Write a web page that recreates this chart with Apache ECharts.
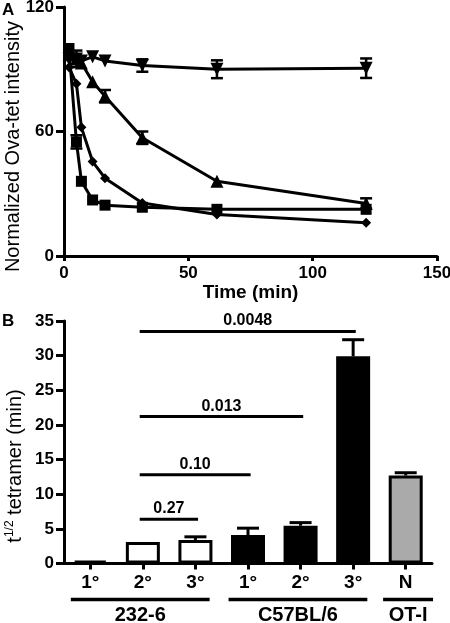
<!DOCTYPE html>
<html>
<head>
<meta charset="utf-8">
<script src="https://cdn.jsdelivr.net/npm/echarts@6/dist/echarts.min.js"></script>
<style>html,body{margin:0;padding:0;background:#fff;}#c{width:450px;height:623px;}</style>
</head>
<body>
<div id="c"></div>
<script>
// ---------- Panel A data ----------
const times = [2, 5, 7, 11.5, 16.5, 31.5, 61.5, 121.5];
const squareVals = [100, 55, 36, 27, 24.5, 23.5, 22.5, 22.5];
const squareErr  = [0, 3.2, 0, 0, 0, 0, 0, 0];
const diamondVals = [91, 83, 62, 45.5, 37.5, 25.5, 20, 16];
const diamondErr  = [0, 0, 0, 0, 0, 0, 0, 0];
const triUpVals = [97, 95, 93, 84, 77, 57, 36, 25.3];
const triUpErr  = [0, 0, 0, 0, 3, 3, 0, 2.5];
const triDownVals = [95, 95, 94, 96, 94, 91.8, 90, 90.5];
const triDownErr  = [0, 4, 0, 0, 0, 3, 4.3, 4.7];
const xTicksA = [0, 50, 100, 150];
const yTicksA = [0, 60, 120];

// ---------- Panel B data ----------
const categories = ['1°', '2°', '3°', '1°', '2°', '3°', 'N'];
const barVals = [0.4, 3.1, 3.4, 4.1, 5.45, 29.9, 12.7];
const barErr  = [0, 0, 0.45, 1.0, 0.45, 2.4, 0.4];
const barFill = ['#ffffff', '#ffffff', '#ffffff', '#000000', '#000000', '#000000', '#aaaaaa'];
const groupLabels = ['232-6', 'C57BL/6', 'OT-I'];
const groupStart = [0, 3, 6];
const groupEnd = [2, 5, 6];
const sigLabels = ['0.27', '0.10', '0.013', '0.0048'];
const sigFrom = [1, 1, 1, 1];
const sigTo = [2, 3, 4, 5];
const sigY = [6.4, 12.8, 21.2, 33.5];

const FONT = 'Arial, "Liberation Sans", Helvetica, sans-serif';
const chart = echarts.init(document.getElementById('c'), null, {renderer: 'canvas'});

function pairs(vals, errs) { return times.map((t, i) => [t, vals[i], errs[i]]); }

function errRender(params, api) {
  const x = api.value(0), y = api.value(1), e = api.value(2);
  if (!e) return null;
  const top = api.coord([x, y + e]);
  const bot = api.coord([x, y - e]);
  const w = 6;
  const st = {stroke: '#000', lineWidth: 2.5};
  return {type: 'group', children: [
    {type: 'line', shape: {x1: top[0], y1: top[1], x2: bot[0], y2: bot[1]}, style: st},
    {type: 'line', shape: {x1: top[0] - w, y1: top[1], x2: top[0] + w, y2: top[1]}, style: st},
    {type: 'line', shape: {x1: bot[0] - w, y1: bot[1], x2: bot[0] + w, y2: bot[1]}, style: st}
  ]};
}

function lineSeries(vals, symbol, size, rotate) {
  return {
    type: 'line', xAxisIndex: 0, yAxisIndex: 0,
    data: times.map((t, i) => [t, vals[i]]),
    symbol: symbol, symbolSize: size, symbolRotate: rotate || 0,
    showAllSymbol: true,
    lineStyle: {color: '#000', width: 3},
    itemStyle: {color: '#000'},
    z: 3, animation: false
  };
}
function errSeries(vals, errs) {
  return {type: 'custom', xAxisIndex: 0, yAxisIndex: 0, data: pairs(vals, errs),
    renderItem: errRender, z: 2, animation: false, clip: false};
}

const axisLineA = {show: true, onZero: false, lineStyle: {color: '#000', width: 3}};
const labelStyle = {color: '#000', fontWeight: 'bold', fontFamily: FONT};

const option = {
  animation: false,
  backgroundColor: '#fff',
  grid: [
    {left: 64, top: 7, width: 373, height: 249, containLabel: false, outerBoundsMode: 'none'},
    {left: 64, top: 321, width: 368, height: 242.5, containLabel: false, outerBoundsMode: 'none'}
  ],
  xAxis: [
    {
      type: 'value', gridIndex: 0, min: 0, max: 150, interval: 50,
      axisLine: axisLineA,
      axisTick: {show: true, length: 5, lineStyle: {color: '#000', width: 3}},
      axisLabel: Object.assign({fontSize: 17, margin: 9}, labelStyle),
      splitLine: {show: false},
      name: 'Time (min)', nameLocation: 'middle', nameGap: 25,
      nameTextStyle: {fontSize: 19, fontWeight: 'bold', color: '#000', fontFamily: FONT}
    },
    {
      type: 'category', gridIndex: 1,
      data: categories.map((c, i) => 'k' + i),
      boundaryGap: true,
      axisLine: {show: true, lineStyle: {color: '#000', width: 3}},
      axisTick: {show: true, alignWithLabel: true, length: 6, lineStyle: {color: '#000', width: 3}},
      axisLabel: Object.assign({fontSize: 19, margin: 10, interval: 0,
        formatter: (v, i) => categories[i]}, labelStyle),
      splitLine: {show: false}
    }
  ],
  yAxis: [
    {
      type: 'value', gridIndex: 0, min: 0, max: 120, interval: 60,
      axisLine: axisLineA,
      axisTick: {show: true, length: 8, lineStyle: {color: '#000', width: 3}},
      axisLabel: Object.assign({fontSize: 17, margin: 10}, labelStyle),
      splitLine: {show: false}
    },
    {
      type: 'value', gridIndex: 1, min: 0, max: 35, interval: 5,
      axisLine: {show: true, lineStyle: {color: '#000', width: 3}},
      axisTick: {show: true, length: 8, lineStyle: {color: '#000', width: 3}},
      axisLabel: Object.assign({fontSize: 17, margin: 10}, labelStyle),
      splitLine: {show: false}
    }
  ],
  graphic: [
    {type: 'text', left: 2, top: 2, style: {text: 'A', fontSize: 17, fontWeight: 'bold', fill: '#000', fontFamily: FONT}},
    {type: 'text', left: 2, top: 313, style: {text: 'B', fontSize: 17, fontWeight: 'bold', fill: '#000', fontFamily: FONT}},
    {type: 'text', x: 13, y: 146.5, rotation: Math.PI / 2,
      style: {text: 'Normalized Ova-tet intensity', fontSize: 20, fill: '#000', fontFamily: FONT,
        align: 'center', verticalAlign: 'middle'}},
    {type: 'text', x: 15, y: 466, rotation: Math.PI / 2,
      style: {text: '{t|t}{s|1/2}{t| tetramer (min)}', fill: '#000', fontFamily: FONT,
        align: 'center', verticalAlign: 'middle',
        rich: {
          t: {fontSize: 20, fill: '#000', fontFamily: FONT},
          s: {fontSize: 12, fill: '#000', fontFamily: FONT, verticalAlign: 'top', padding: [0, 0, 10, 0]}
        }}}
  ],
  series: [
    errSeries(squareVals, squareErr),
    errSeries(diamondVals, diamondErr),
    errSeries(triUpVals, triUpErr),
    errSeries(triDownVals, triDownErr),
    lineSeries(squareVals, 'rect', 11),
    lineSeries(diamondVals, 'diamond', 10),
    lineSeries(triUpVals, 'triangle', 13),
    lineSeries(triDownVals, 'triangle', 13, 180),
    {
      type: 'bar', xAxisIndex: 1, yAxisIndex: 1, barWidth: 34,
      data: barVals.map((v, i) => ({value: v, itemStyle: {color: barFill[i], borderColor: '#000', borderWidth: 3}})),
      z: 2
    },
    {
      type: 'custom', xAxisIndex: 1, yAxisIndex: 1, clip: false, z: 3,
      data: barVals.map((v, i) => [i, v, barErr[i]]),
      renderItem: function (params, api) {
        const i = api.value(0), v = api.value(1), e = api.value(2);
        if (!e) return null;
        const a = api.coord([i, v]), b = api.coord([i, v + e]);
        const st = {stroke: '#000', lineWidth: 3};
        return {type: 'group', children: [
          {type: 'line', shape: {x1: a[0], y1: a[1], x2: b[0], y2: b[1]}, style: st},
          {type: 'line', shape: {x1: b[0] - 11, y1: b[1], x2: b[0] + 11, y2: b[1]}, style: st}
        ]};
      }
    },
    {
      type: 'custom', xAxisIndex: 1, yAxisIndex: 1, clip: false, z: 3,
      data: sigY.map((y, i) => [sigFrom[i], sigTo[i], y]),
      renderItem: function (params, api) {
        const f = api.value(0), t = api.value(1), y = api.value(2);
        const band = api.size([1, 0])[0];
        const a = api.coord([f, y]), b = api.coord([t, y]);
        const x1 = a[0] - 0.06 * band, x2 = b[0] + 0.05 * band;
        return {type: 'group', children: [
          {type: 'line', shape: {x1: x1, y1: a[1], x2: x2, y2: a[1]}, style: {stroke: '#000', lineWidth: 3}},
          {type: 'text', x: (x1 + x2) / 2, y: a[1] - 10.5,
            style: {text: sigLabels[params.dataIndex], fontSize: 16, fontWeight: 'bold', fill: '#000',
              fontFamily: FONT, align: 'center', verticalAlign: 'middle'}}
        ]};
      }
    },
    {
      type: 'custom', xAxisIndex: 1, yAxisIndex: 1, clip: false, z: 3,
      data: groupStart.map((s, i) => [s, groupEnd[i]]),
      renderItem: function (params, api) {
        const s = api.value(0), e = api.value(1);
        const single = s === e;
        const band = api.size([1, 0])[0];
        const a = api.coord([s, 0]), b = api.coord([e, 0]);
        const x1 = a[0] - (single ? 0.43 : 0.37) * band;
        const x2 = b[0] + (single ? 0.52 : 0.27) * band;
        const ly = a[1] + 36;
        return {type: 'group', children: [
          {type: 'line', shape: {x1: x1, y1: ly, x2: x2, y2: ly}, style: {stroke: '#000', lineWidth: 3.5}},
          {type: 'text', x: (x1 + x2) / 2, y: a[1] + 51.5,
            style: {text: groupLabels[params.dataIndex], fontSize: 20, fontWeight: 'bold', fill: '#000',
              fontFamily: FONT, align: 'center', verticalAlign: 'middle'}}
        ]};
      }
    }
  ]
};
chart.setOption(option);
</script>
</body>
</html>
